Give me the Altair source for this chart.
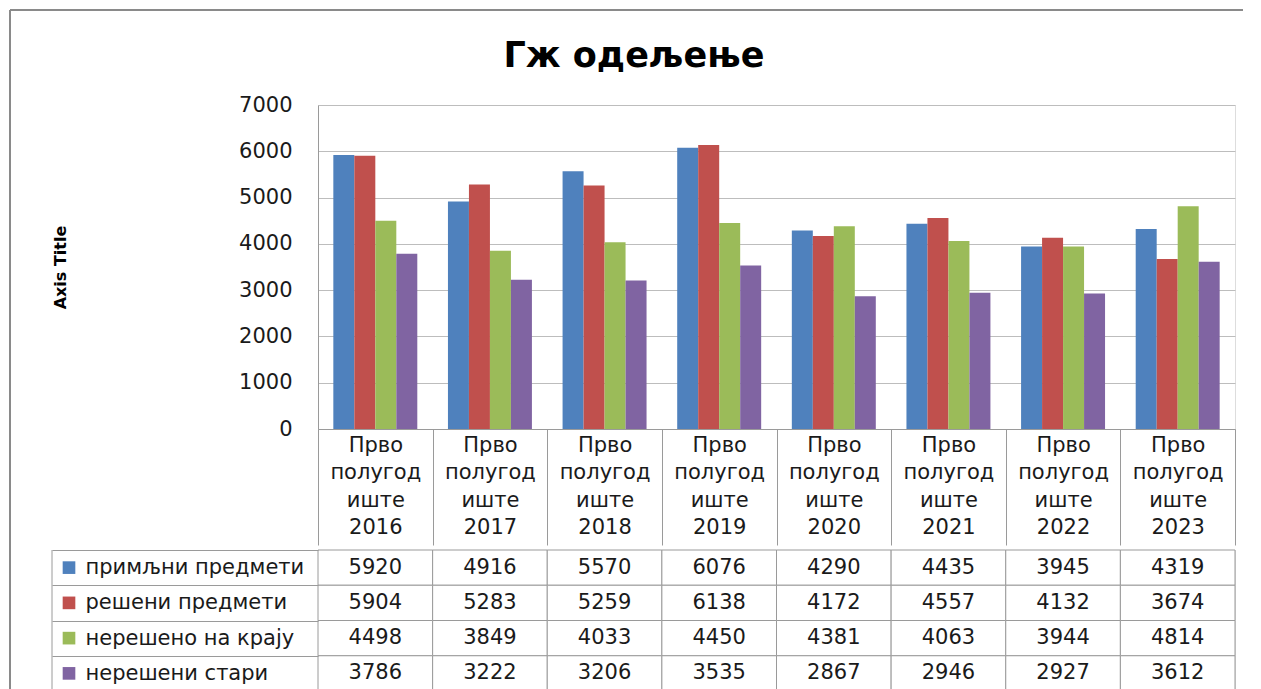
import altair as alt
import pandas as pd

# ---- data ----
title_text = "Гж одељење"
categories = [
    "Прво полугодиште 2016", "Прво полугодиште 2017", "Прво полугодиште 2018",
    "Прво полугодиште 2019", "Прво полугодиште 2020", "Прво полугодиште 2021",
    "Прво полугодиште 2022", "Прво полугодиште 2023",
]
series = ["примљни предмети", "решени предмети", "нерешено на крају", "нерешени стари"]
primljeni = [5920, 4916, 5570, 6076, 4290, 4435, 3945, 4319]
reseni = [5904, 5283, 5259, 6138, 4172, 4557, 4132, 3674]
nereseno_kraj = [4498, 3849, 4033, 4450, 4381, 4063, 3944, 4814]
nereseni_stari = [3786, 3222, 3206, 3535, 2867, 2946, 2927, 3612]
colors = ["#4F81BD", "#C0504D", "#9BBB59", "#8064A2"]
y_ticks = [0, 1000, 2000, 3000, 4000, 5000, 6000, 7000]

values_by_series = [primljeni, reseni, nereseno_kraj, nereseni_stari]
rows = []
for s, vals in zip(series, values_by_series):
    for c, v in zip(categories, vals):
        rows.append({"period": c, "series": s, "value": v})
df = pd.DataFrame(rows)
one = pd.DataFrame({"t": [title_text]})
ser_df = pd.DataFrame({"series": series})

FONT = "DejaVu Sans"
TXT = "#1a1a1a"
LINE = "#9a9a9a"
GRIDC = "#bdbdbd"
FRAME = "#8a8a8a"

PLOT_W = 917
PLOT_H = 324
HEADER_H = 116
TABLE_H = 141

xscale = alt.Scale(domain=categories, paddingInner=0, paddingOuter=0)
cscale = alt.Scale(domain=series, range=colors)

label_expr = (
    "isString(datum.label) && length(split(datum.label, ' ')) == 3 ? "
    "[split(datum.label,' ')[0], substring(split(datum.label,' ')[1],0,7), "
    "substring(split(datum.label,' ')[1],7), split(datum.label,' ')[2]] : ''"
)

x_axis = alt.Axis(
    title=None, labelAngle=0, labelExpr=label_expr, labelFont=FONT, labelFontSize=21,
    labelColor=TXT, labelLineHeight=27.5, labelBaseline="middle", labelPadding=-100,
    tickBand="extent", tickSize=HEADER_H, tickColor=LINE, domainColor=LINE, grid=False,
    labelLimit=0,
)
y_axis = alt.Axis(
    values=y_ticks, format="d", title="Axis Title", titleFont=FONT, titleFontSize=16,
    titleFontWeight="bold", titleColor="black", titleX=-250, titleY=PLOT_H / 2,
    titleAngle=-90, titleBaseline="bottom", titleAlign="center",
    labelFont=FONT, labelFontSize=21, labelColor=TXT, labelPadding=26,
    ticks=False, tickSize=0, domainColor=LINE, gridColor=GRIDC, grid=True,
)

bars = alt.Chart(df).mark_bar().encode(
    x=alt.X("period:N", scale=xscale, sort=categories, axis=x_axis),
    xOffset=alt.XOffset("series:N", sort=series,
                        scale=alt.Scale(domain=series, paddingInner=0, paddingOuter=0.73)),
    y=alt.Y("value:Q", scale=alt.Scale(domain=[0, 7000], nice=False), axis=y_axis),
    color=alt.Color("series:N", scale=cscale, legend=None),
)

frame_v = alt.Chart(one).mark_rule(color=FRAME, strokeWidth=2).encode(
    x=alt.value(-308), y=alt.value(-95), y2=alt.value(PLOT_H + HEADER_H))
frame_h = alt.Chart(one).mark_rule(color=FRAME, strokeWidth=2).encode(
    x=alt.value(-308), x2=alt.value(925), y=alt.value(-95))
title_mark = alt.Chart(one).mark_text(
    font=FONT, fontSize=35, fontWeight="bold", color="black",
    align="center", baseline="alphabetic",
).encode(text="t:N", x=alt.value(316), y=alt.value(-38))

top = alt.layer(frame_v, frame_h, title_mark, bars).properties(width=PLOT_W, height=PLOT_H)

# ---- data table below ----
row_axis = alt.Axis(
    title=None, labelFont=FONT, labelFontSize=21, labelColor=TXT, labelAlign="left",
    labelPadding=-33, tickBand="extent", tickSize=266, tickColor=LINE, domain=False,
    labelLimit=0,
)
yrow = alt.Y("series:N", sort=series,
             scale=alt.Scale(domain=series, paddingInner=0, paddingOuter=0), axis=row_axis)
xcol = alt.X("period:N", scale=xscale, sort=categories, axis=None)

cells = alt.Chart(df).mark_rect(fill="white", stroke=LINE, strokeWidth=1).encode(x=xcol, y=yrow)
vals = alt.Chart(df).mark_text(font=FONT, fontSize=21, color=TXT, baseline="middle").encode(
    x=xcol, y=yrow, text="value:Q")
squares = alt.Chart(ser_df).mark_point(shape="square", filled=True, size=160, opacity=1).encode(
    x=alt.value(-249), y=yrow, color=alt.Color("series:N", scale=cscale, legend=None))
frame_v2 = alt.Chart(one).mark_rule(color=FRAME, strokeWidth=2).encode(
    x=alt.value(-308), y=alt.value(-17), y2=alt.value(TABLE_H))
leg_left = alt.Chart(one).mark_rule(color=LINE, strokeWidth=1).encode(
    x=alt.value(-266), y=alt.value(0), y2=alt.value(TABLE_H))

bottom = alt.layer(frame_v2, leg_left, cells, vals, squares).properties(
    width=PLOT_W, height=TABLE_H)

chart = alt.vconcat(top, bottom, spacing=-16).properties(
    padding={"left": 0, "top": 0, "right": 0, "bottom": 0},
).configure_view(stroke=None).configure(font=FONT)

chart.save("out.html", embed_options={"renderer": "svg", "actions": False})
